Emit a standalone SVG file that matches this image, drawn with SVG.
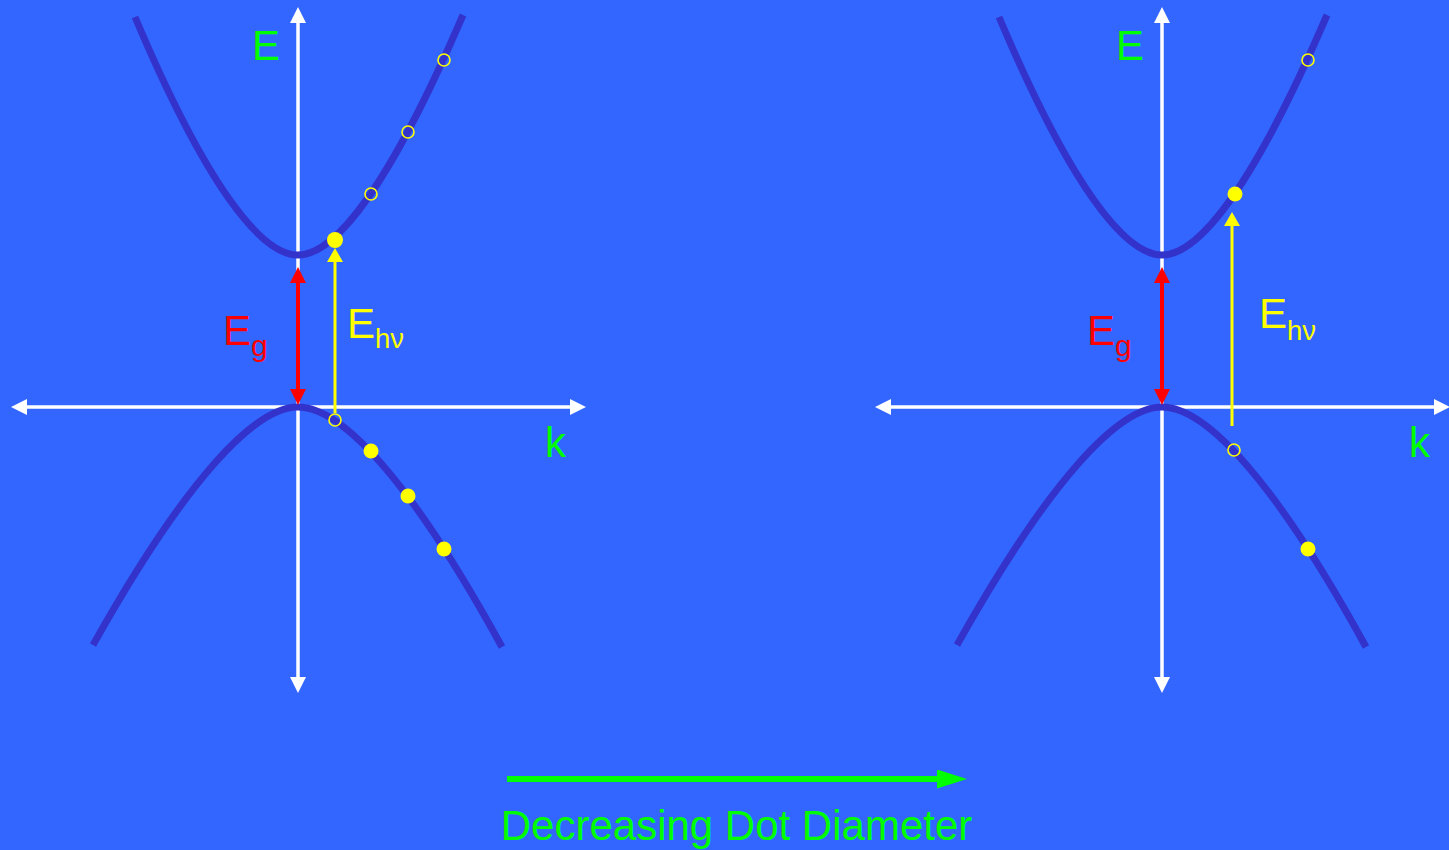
<svg xmlns="http://www.w3.org/2000/svg" width="1449" height="850" viewBox="0 0 1449 850">
  <style>
    .axis { stroke: #FFFFFF; stroke-width: 3.5; fill: none; }
    .band { stroke: #3333CC; stroke-width: 7; fill: none; }
    .eg { stroke: #FF0000; stroke-width: 4; fill: none; }
    .ehv { stroke: #FFFF00; stroke-width: 3; fill: none; }
    .dot { fill: #FFFF00; }
    .hole { fill: none; stroke: #FFFF00; stroke-width: 1.6; }
    text { font-family: "Liberation Sans", Arial, sans-serif; }
    .lbl { fill: #00FF00; font-size: 42px; }
    .red { fill: #FF0000; font-size: 42px; }
    .yel { fill: #FFFF00; font-size: 42px; }
  </style>
  <defs>
    <marker id="mw" viewBox="0 0 16 16" refX="6" refY="8" markerWidth="16" markerHeight="16" markerUnits="userSpaceOnUse" orient="auto-start-reverse">
      <path d="M0,0 L16,8 L0,16 Z" fill="#FFFFFF"/>
    </marker>
    <marker id="mr" viewBox="0 0 16 16" refX="6" refY="8" markerWidth="16" markerHeight="16" markerUnits="userSpaceOnUse" orient="auto-start-reverse">
      <path d="M0,0 L16,8 L0,16 Z" fill="#FF0000"/>
    </marker>
    <marker id="my" viewBox="0 0 14 16" refX="4" refY="8" markerWidth="14" markerHeight="16" markerUnits="userSpaceOnUse" orient="auto">
      <path d="M0,0 L14,8 L0,16 Z" fill="#FFFF00"/>
    </marker>
    <marker id="mg" viewBox="0 0 30 19" refX="20" refY="9.5" markerWidth="30" markerHeight="19" markerUnits="userSpaceOnUse" orient="auto">
      <path d="M0,0 L30,9.5 L0,19 Z" fill="#00FF00"/>
    </marker>
  </defs>
  <rect x="0" y="0" width="1449" height="850" fill="#3366FF"/>

  <g id="left-panel">
    <g id="left-axes">
      <line class="axis" x1="298" y1="683" x2="298" y2="17" marker-start="url(#mw)" marker-end="url(#mw)"/>
      <line class="axis" x1="21" y1="407" x2="576" y2="407" marker-start="url(#mw)" marker-end="url(#mw)"/>
    </g>
    <g id="left-bands">
      <path class="band" d="M135,17 C207.2,187.8 261.5,255 298,255 C334.5,255 388.8,187.8 463,15"/>
      <path class="band" d="M93,645 C185.8,479.6 254.5,407 298,407 C341.5,407 410.2,479.6 502,647"/>
    </g>
    <g id="left-connectors">
      <line class="eg" x1="298" y1="277" x2="298" y2="395" marker-start="url(#mr)" marker-end="url(#mr)"/>
      <line class="ehv" x1="335" y1="413" x2="335" y2="258" marker-end="url(#my)"/>
    </g>
    <g id="left-dots">
      <circle class="hole" cx="444" cy="60" r="6"/>
      <circle class="hole" cx="408" cy="132" r="6"/>
      <circle class="hole" cx="371" cy="194" r="6"/>
      <circle class="dot" cx="335" cy="240" r="8"/>
      <circle class="hole" cx="335" cy="420" r="6"/>
      <circle class="dot" cx="371" cy="451" r="7.5"/>
      <circle class="dot" cx="408" cy="496" r="7.5"/>
      <circle class="dot" cx="444" cy="549" r="7.5"/>
    </g>
    <g id="left-labels">
      <text class="lbl" x="252" y="60">E</text>
      <text class="lbl" x="545" y="457">k</text>
      <text class="red" x="223" y="345">E<tspan font-size="30" dy="11">g</tspan></text>
      <text class="yel" x="347" y="338">E<tspan font-size="27.5" dy="10">hν</tspan></text>
    </g>
  </g>

  <g id="right-panel">
    <g id="right-axes">
      <line class="axis" x1="1162" y1="683" x2="1162" y2="17" marker-start="url(#mw)" marker-end="url(#mw)"/>
      <line class="axis" x1="885" y1="407" x2="1440" y2="407" marker-start="url(#mw)" marker-end="url(#mw)"/>
    </g>
    <g id="right-bands">
      <path class="band" d="M999,17 C1071.2,187.8 1125.5,255 1162,255 C1198.5,255 1252.8,187.8 1327,15"/>
      <path class="band" d="M957,645 C1049.8,479.6 1118.5,407 1162,407 C1205.5,407 1274.2,479.6 1366,647"/>
    </g>
    <g id="right-connectors">
      <line class="eg" x1="1162" y1="277" x2="1162" y2="395" marker-start="url(#mr)" marker-end="url(#mr)"/>
      <line class="ehv" x1="1232" y1="426" x2="1232" y2="222" marker-end="url(#my)"/>
    </g>
    <g id="right-dots">
      <circle class="hole" cx="1308" cy="60" r="6"/>
      <circle class="dot" cx="1235" cy="194" r="7.5"/>
      <circle class="hole" cx="1234" cy="450" r="6"/>
      <circle class="dot" cx="1308" cy="549" r="7.5"/>
    </g>
    <g id="right-labels">
      <text class="lbl" x="1116" y="60">E</text>
      <text class="lbl" x="1409" y="457">k</text>
      <text class="red" x="1087" y="345">E<tspan font-size="30" dy="11">g</tspan></text>
      <text class="yel" x="1259" y="328">E<tspan font-size="27.5" dy="12">hν</tspan></text>
    </g>
  </g>

  <g id="size-trend">
    <line x1="507" y1="779" x2="957" y2="779" stroke="#00FF00" stroke-width="6" marker-end="url(#mg)"/>
    <text class="lbl" x="736.5" y="840" text-anchor="middle" font-size="42.3">Decreasing Dot Diameter</text>
  </g>
</svg>
